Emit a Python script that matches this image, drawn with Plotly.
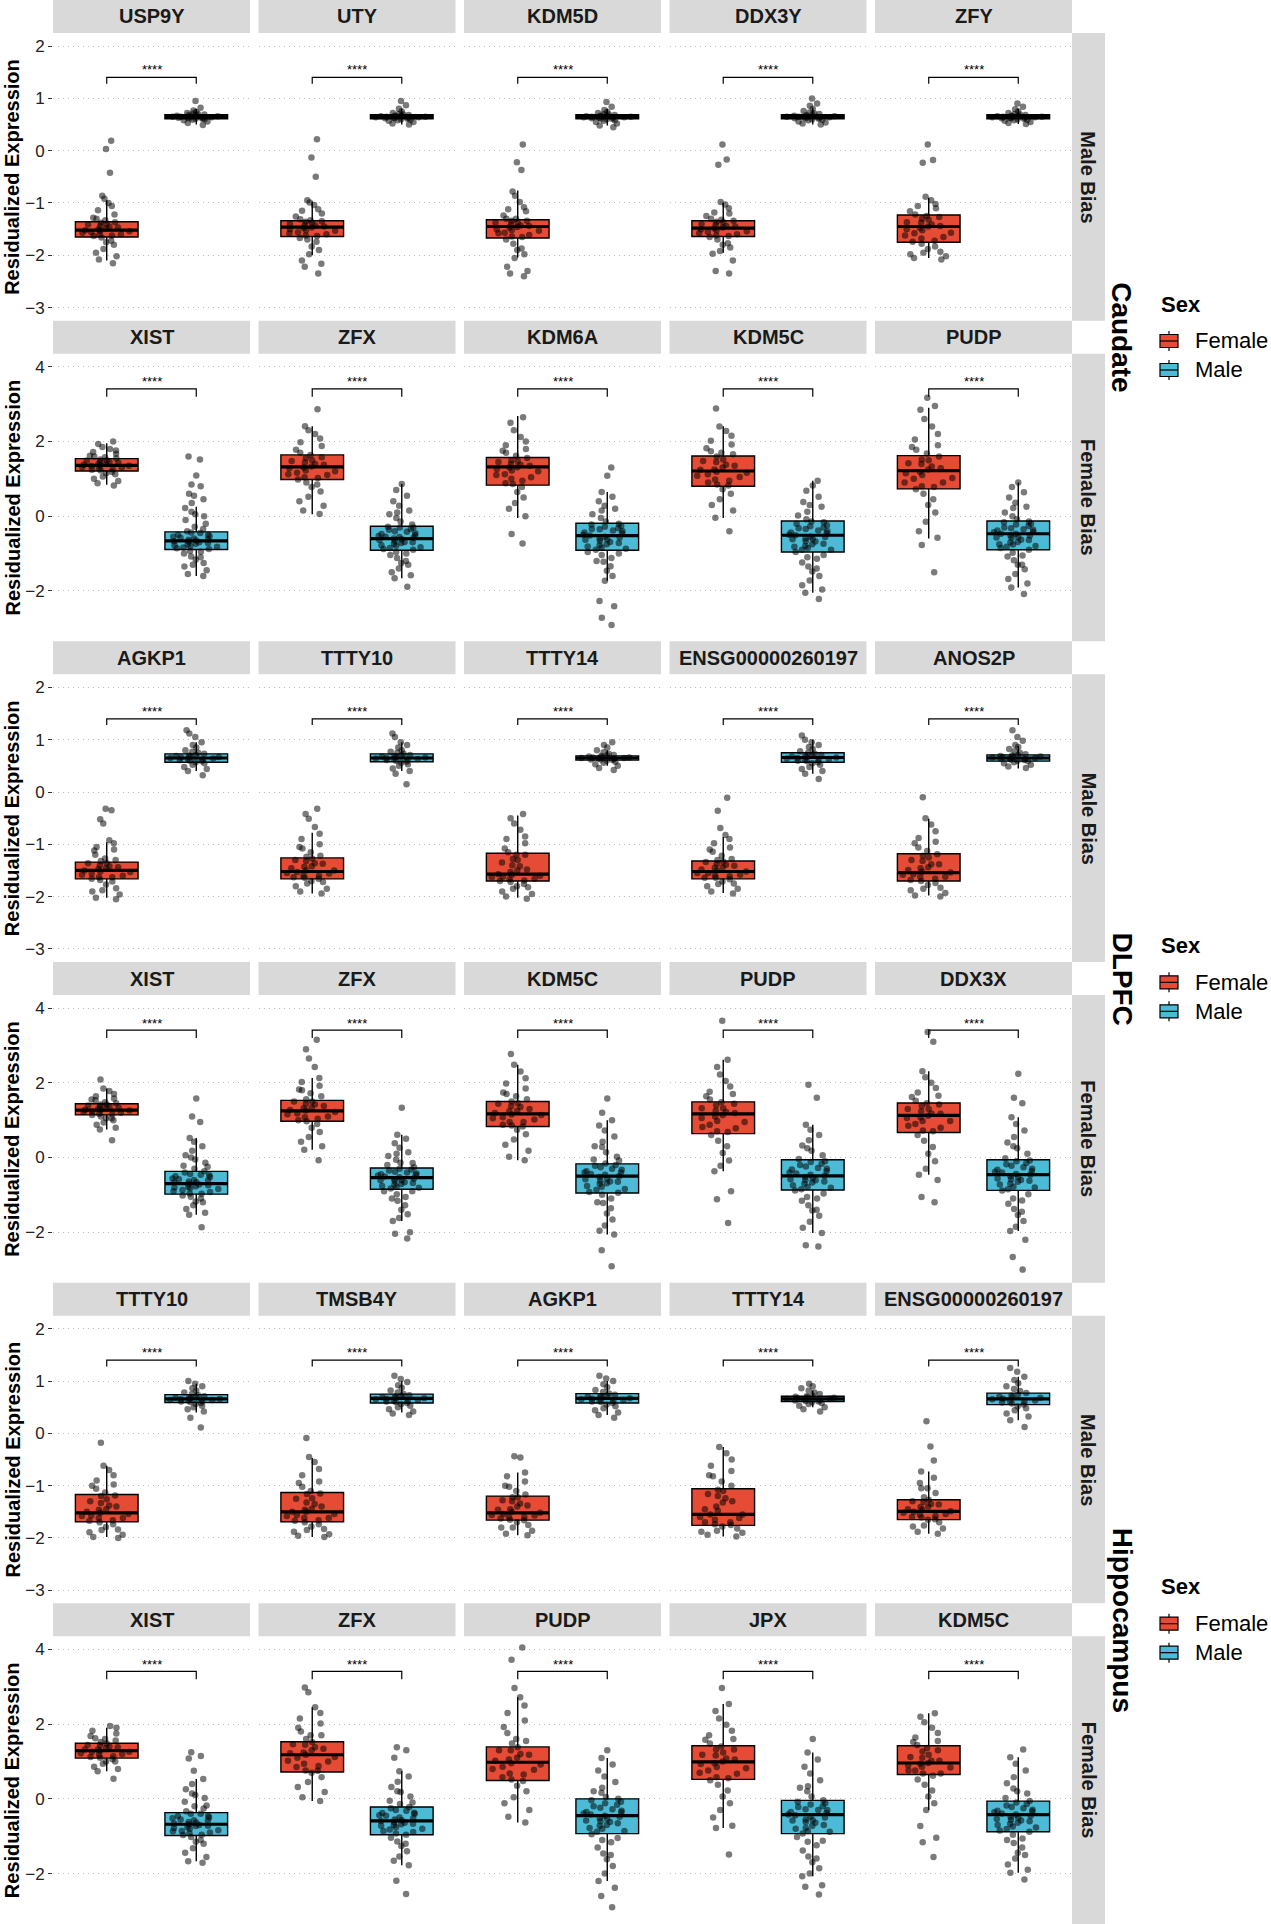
import plotly.graph_objects as go

W, H = 1271, 1924
FONT = "Liberation Sans, Arial, Helvetica, sans-serif"

regions = ["Caudate", "DLPFC", "Hippocampus"]
bias_rows = ["Male Bias", "Female Bias"]
sexes = ["Female", "Male"]
sex_fill = ["#E64B35", "#4DBBD5"]
signif_label = "****"
ytitle = "Residualized Expression"
legend_title = "Sex"

male_bias_ticks = [-3, -2, -1, 0, 1, 2]
female_bias_ticks = [-2, 0, 2, 4]
male_bias_range = [-3.25, 2.25]
female_bias_range = [-3.35, 4.35]
# bracket levels: [tip, bar, label]
male_bias_bracket = [1.28, 1.40, 1.62]
female_bias_bracket = [3.20, 3.41, 3.70]

# ---------------- genes ----------------
genes_caudate_male = ["USP9Y", "UTY", "KDM5D", "DDX3Y", "ZFY"]
genes_caudate_female = ["XIST", "ZFX", "KDM6A", "KDM5C", "PUDP"]
genes_dlpfc_male = ["AGKP1", "TTTY10", "TTTY14", "ENSG00000260197", "ANOS2P"]
genes_dlpfc_female = ["XIST", "ZFX", "KDM5C", "PUDP", "DDX3X"]
genes_hippo_male = ["TTTY10", "TMSB4Y", "AGKP1", "TTTY14", "ENSG00000260197"]
genes_hippo_female = ["XIST", "ZFX", "PUDP", "JPX", "KDM5C"]

# ---------------- box statistics [lower whisker, q1, median, q3, upper whisker] ----------------
box_caudate_male_F = [[-2.10, -1.65, -1.52, -1.36, -0.95], [-2.00, -1.64, -1.46, -1.34, -0.97],
                      [-2.04, -1.67, -1.45, -1.32, -0.76], [-1.95, -1.64, -1.48, -1.34, -1.00],
                      [-2.05, -1.75, -1.45, -1.23, -0.90]]
box_caudate_male_M = [[0.50, 0.61, 0.65, 0.69, 0.80], [0.50, 0.61, 0.65, 0.69, 0.80],
                      [0.48, 0.61, 0.65, 0.69, 0.80], [0.50, 0.61, 0.65, 0.69, 0.82],
                      [0.51, 0.61, 0.65, 0.69, 0.80]]
box_caudate_female_F = [[0.84, 1.21, 1.36, 1.54, 1.95], [0.05, 0.98, 1.32, 1.64, 2.41],
                        [-0.05, 0.83, 1.32, 1.57, 2.68], [-0.05, 0.80, 1.21, 1.61, 2.41],
                        [-0.60, 0.73, 1.22, 1.62, 2.90]]
box_caudate_female_M = [[-1.60, -0.89, -0.66, -0.42, 0.25], [-1.66, -0.91, -0.60, -0.27, 0.86],
                        [-1.73, -0.91, -0.52, -0.19, 0.65], [-2.05, -0.96, -0.51, -0.13, 0.95],
                        [-1.91, -0.90, -0.47, -0.13, 0.90]]
box_dlpfc_male_F = [[-2.02, -1.66, -1.50, -1.34, -0.96], [-1.94, -1.66, -1.52, -1.26, -0.78],
                    [-2.02, -1.70, -1.57, -1.17, -0.45], [-1.93, -1.66, -1.52, -1.32, -0.86],
                    [-1.98, -1.70, -1.54, -1.18, -0.51]]
box_dlpfc_male_M = [[0.40, 0.57, 0.65, 0.73, 0.95], [0.40, 0.58, 0.65, 0.73, 0.95],
                    [0.50, 0.61, 0.65, 0.69, 0.80], [0.35, 0.57, 0.66, 0.75, 1.00],
                    [0.45, 0.59, 0.65, 0.71, 0.88]]
box_dlpfc_female_F = [[0.75, 1.14, 1.27, 1.44, 1.85], [0.21, 0.97, 1.25, 1.53, 2.13],
                      [-0.07, 0.83, 1.17, 1.50, 2.48], [-0.37, 0.64, 1.17, 1.49, 2.62],
                      [-0.46, 0.67, 1.13, 1.46, 2.31]]
box_dlpfc_female_M = [[-1.53, -0.98, -0.70, -0.37, 0.52], [-1.70, -0.85, -0.54, -0.28, 0.61],
                      [-2.06, -0.95, -0.50, -0.17, 1.00], [-2.02, -0.87, -0.49, -0.06, 0.88],
                      [-1.97, -0.88, -0.46, -0.06, 1.08]]
box_hippo_male_F = [[-1.98, -1.69, -1.52, -1.17, -0.62], [-1.98, -1.69, -1.50, -1.13, -0.47],
                    [-1.95, -1.66, -1.52, -1.20, -0.75], [-1.97, -1.76, -1.55, -1.06, -0.26],
                    [-1.92, -1.65, -1.49, -1.27, -0.73]]
box_hippo_male_M = [[0.40, 0.59, 0.66, 0.74, 0.95], [0.40, 0.58, 0.67, 0.75, 1.00],
                    [0.35, 0.58, 0.67, 0.76, 1.00], [0.50, 0.61, 0.66, 0.71, 0.82],
                    [0.25, 0.55, 0.66, 0.77, 1.08]]
box_hippo_female_F = [[0.74, 1.09, 1.29, 1.49, 1.90], [-0.06, 0.72, 1.18, 1.53, 2.45],
                      [-0.63, 0.49, 0.98, 1.39, 2.72], [-0.78, 0.52, 0.99, 1.42, 2.54],
                      [-0.30, 0.65, 0.96, 1.42, 2.29]]
box_hippo_female_M = [[-1.67, -0.98, -0.68, -0.37, 0.53], [-1.78, -0.96, -0.59, -0.22, 0.74],
                      [-2.20, -0.93, -0.45, 0.00, 1.09], [-2.07, -0.93, -0.42, -0.04, 1.24],
                      [-1.98, -0.88, -0.42, -0.06, 1.11]]

# ---------------- sample points ----------------
pts_caudate_male_F = [
    [0.19, 0.03, -0.42, -0.86, -0.92, -1.0, -1.06, -1.14, -1.22, -1.28, -1.33, -1.37, -1.41, -1.44, -1.47, -1.5, -1.52, -1.54, -1.57, -1.6, -1.63, -1.66, -1.72, -1.8, -1.88, -1.95, -2.02, -2.08, -2.15,
     -1.4, -1.45, -1.49, -1.53, -1.56, -1.6, -1.38, -1.62, -1.3, -1.75],
    [0.22, -0.13, -0.5, -0.95, -0.99, -1.04, -1.12, -1.2, -1.26, -1.31, -1.35, -1.38, -1.42, -1.45, -1.48, -1.5, -1.53, -1.56, -1.6, -1.63, -1.67, -1.74, -1.83, -1.9, -1.98, -2.1, -2.16, -2.22, -2.35,
     -1.36, -1.4, -1.43, -1.47, -1.52, -1.58, -1.62, -1.33, -1.7, -1.15],
    [0.12, -0.22, -0.37, -0.78, -0.86, -0.98, -1.08, -1.16, -1.24, -1.3, -1.34, -1.38, -1.41, -1.44, -1.47, -1.5, -1.53, -1.57, -1.61, -1.65, -1.7, -1.78, -1.87, -1.98, -2.05, -2.22, -2.3, -2.35, -2.4,
     -1.34, -1.38, -1.43, -1.46, -1.52, -1.58, -1.64, -1.3, -1.9, -1.12],
    [0.12, -0.17, -0.27, -0.98, -1.03, -1.1, -1.18, -1.25, -1.3, -1.34, -1.37, -1.41, -1.44, -1.47, -1.49, -1.52, -1.55, -1.58, -1.62, -1.65, -1.7, -1.77, -1.85, -1.92, -1.97, -2.1, -2.3, -2.35,
     -1.36, -1.4, -1.45, -1.5, -1.54, -1.6, -1.63, -1.32, -1.8, -1.2],
    [0.12, -0.18, -0.23, -0.88, -0.95, -1.02, -1.1, -1.16, -1.22, -1.27, -1.32, -1.37, -1.41, -1.45, -1.48, -1.52, -1.57, -1.62, -1.68, -1.74, -1.78, -1.83, -1.88, -1.93, -1.98, -2.02, -2.05, -2.08,
     -1.25, -1.3, -1.38, -1.44, -1.5, -1.58, -1.65, -1.72, -1.95, -1.06],
]
pts_caudate_male_M = [
    [0.95, 0.82, 0.77, 0.74, 0.72, 0.71, 0.7, 0.69, 0.68, 0.68, 0.67, 0.66, 0.66, 0.65, 0.65, 0.64, 0.64, 0.63, 0.63, 0.62, 0.61, 0.61, 0.6, 0.59, 0.58, 0.56, 0.53, 0.49],
    [0.95, 0.87, 0.8, 0.75, 0.72, 0.7, 0.69, 0.68, 0.67, 0.67, 0.66, 0.66, 0.65, 0.65, 0.64, 0.64, 0.63, 0.63, 0.62, 0.62, 0.61, 0.6, 0.59, 0.58, 0.57, 0.55, 0.52, 0.5],
    [0.93, 0.84, 0.78, 0.74, 0.72, 0.7, 0.69, 0.68, 0.67, 0.67, 0.66, 0.66, 0.65, 0.65, 0.64, 0.64, 0.63, 0.63, 0.62, 0.61, 0.61, 0.6, 0.58, 0.57, 0.55, 0.52, 0.48, 0.45],
    [1.0, 0.9, 0.86, 0.8, 0.76, 0.73, 0.71, 0.7, 0.69, 0.68, 0.67, 0.66, 0.66, 0.65, 0.65, 0.64, 0.64, 0.63, 0.62, 0.62, 0.61, 0.6, 0.59, 0.58, 0.56, 0.54, 0.52, 0.5],
    [0.9, 0.84, 0.79, 0.75, 0.72, 0.7, 0.69, 0.68, 0.67, 0.67, 0.66, 0.66, 0.65, 0.65, 0.64, 0.64, 0.63, 0.63, 0.62, 0.62, 0.61, 0.6, 0.59, 0.58, 0.57, 0.55, 0.53, 0.51],
]
pts_caudate_female_F = [
    [2.0, 1.93, 1.85, 1.8, 1.76, 1.72, 1.67, 1.62, 1.58, 1.55, 1.52, 1.49, 1.46, 1.43, 1.4, 1.38, 1.36, 1.34, 1.31, 1.28, 1.25, 1.22, 1.18, 1.12, 1.06, 1.0, 0.94, 0.88, 0.82,
     1.24, 1.3, 1.35, 1.4, 1.45, 1.5, 1.6, 1.15],
    [2.86, 2.41, 2.3, 2.2, 2.08, 1.98, 1.88, 1.78, 1.7, 1.64, 1.58, 1.5, 1.44, 1.38, 1.33, 1.28, 1.22, 1.16, 1.1, 1.04, 0.98, 0.9, 0.78, 0.66, 0.52, 0.4, 0.28, 0.15, 0.06,
     1.02, 1.12, 1.2, 1.3, 1.4, 1.48, 1.56, 0.85],
    [2.65, 2.5, 2.3, 2.12, 2.0, 1.9, 1.8, 1.7, 1.62, 1.56, 1.5, 1.45, 1.4, 1.35, 1.31, 1.26, 1.2, 1.12, 1.04, 0.95, 0.86, 0.78, 0.65, 0.5, 0.35, 0.2, 0.0, -0.48, -0.73,
     0.88, 1.0, 1.1, 1.22, 1.3, 1.38, 1.48, 1.75],
    [2.88, 2.4, 2.28, 2.15, 2.02, 1.92, 1.82, 1.74, 1.66, 1.6, 1.52, 1.45, 1.38, 1.3, 1.24, 1.19, 1.12, 1.05, 0.98, 0.9, 0.82, 0.72, 0.6, 0.45, 0.3, 0.15, -0.04, -0.4,
     0.85, 0.95, 1.08, 1.16, 1.25, 1.35, 1.48, 1.7],
    [3.17, 2.95, 2.85, 2.6, 2.4, 2.2, 2.05, 1.9, 1.78, 1.68, 1.6, 1.5, 1.42, 1.33, 1.25, 1.18, 1.1, 1.0, 0.9, 0.8, 0.72, 0.6, 0.45, 0.3, 0.1, -0.15, -0.4, -0.58, -0.77, -1.5,
     0.78, 0.9, 1.02, 1.15, 1.28, 1.4, 1.52, 1.85],
]
pts_caudate_female_M = [
    [1.6, 1.52, 1.09, 0.85, 0.8, 0.6, 0.55, 0.45, 0.35, 0.22, 0.12, 0.0, -0.1, -0.2, -0.28, -0.34, -0.4, -0.45, -0.5, -0.54, -0.58, -0.62, -0.65, -0.68, -0.72, -0.76, -0.8, -0.84, -0.88, -0.93, -1.0, -1.08, -1.16, -1.25, -1.35, -1.45, -1.55, -1.6,
     -0.44, -0.5, -0.55, -0.6, -0.63, -0.67, -0.7, -0.74, -0.78, -0.82, -0.86, -0.95, -1.1, -1.3, 0.05],
    [0.86, 0.7, 0.55, 0.4, 0.28, 0.15, 0.05, -0.05, -0.14, -0.22, -0.28, -0.3, -0.34, -0.4, -0.46, -0.51, -0.55, -0.56, -0.6, -0.64, -0.69, -0.7, -0.74, -0.79, -0.85, -0.9, -0.96, -1.04, -1.12, -1.2, -1.3, -1.4, -1.5, -1.58, -1.66, -1.89,
     -0.3, -0.36, -0.42, -0.48, -0.53, -0.58, -0.62, -0.66, -0.72, -0.78, -0.83, -0.88, -1.0, -1.25, 0.1],
    [1.3, 1.08, 0.65, 0.52, 0.4, 0.28, 0.15, 0.05, -0.05, -0.14, -0.2, -0.26, -0.32, -0.35, -0.38, -0.44, -0.5, -0.55, -0.6, -0.62, -0.66, -0.72, -0.78, -0.84, -0.9, -0.96, -1.04, -1.12, -1.22, -1.34, -1.46, -1.6, -1.73, -2.27, -2.41, -2.72, -2.91,
     -0.22, -0.28, -0.34, -0.4, -0.46, -0.52, -0.57, -0.63, -0.69, -0.75, -0.81, -0.87, -1.0, -1.2, 0.2],
    [0.95, 0.82, 0.68, 0.52, 0.38, 0.25, 0.12, 0.02, -0.08, -0.14, -0.2, -0.27, -0.3, -0.34, -0.4, -0.46, -0.51, -0.56, -0.6, -0.62, -0.68, -0.75, -0.82, -0.85, -0.9, -0.96, -1.04, -1.14, -1.24, -1.35, -1.48, -1.6, -1.72, -1.85, -1.96, -2.05, -2.22,
     -0.16, -0.24, -0.32, -0.38, -0.44, -0.5, -0.55, -0.61, -0.67, -0.74, -0.8, -0.9, -1.1, -1.4, 0.3],
    [0.9, 0.78, 0.64, 0.5, 0.36, 0.22, 0.1, 0.0, -0.08, -0.14, -0.2, -0.26, -0.32, -0.35, -0.38, -0.43, -0.47, -0.52, -0.55, -0.58, -0.64, -0.7, -0.76, -0.8, -0.82, -0.9, -0.98, -1.08, -1.18, -1.3, -1.42, -1.55, -1.68, -1.8, -1.91, -2.08,
     -0.16, -0.22, -0.3, -0.36, -0.42, -0.47, -0.52, -0.57, -0.63, -0.69, -0.75, -0.85, -1.05, -1.3, 0.25],
]
pts_dlpfc_male_F = [
    [-0.32, -0.35, -0.52, -0.6, -0.92, -0.98, -1.05, -1.12, -1.2, -1.27, -1.32, -1.36, -1.4, -1.44, -1.47, -1.5, -1.53, -1.56, -1.6, -1.63, -1.66, -1.71, -1.77, -1.84, -1.9, -1.96, -2.02, -2.05,
     -1.36, -1.42, -1.46, -1.52, -1.58, -1.63, -1.3, -1.68, -1.88, -1.1],
    [-0.32, -0.42, -0.51, -0.67, -0.8, -0.9, -1.0, -1.08, -1.15, -1.22, -1.27, -1.32, -1.37, -1.42, -1.46, -1.5, -1.53, -1.56, -1.6, -1.63, -1.66, -1.7, -1.75, -1.8, -1.85, -1.9, -1.94,
     -1.3, -1.36, -1.43, -1.5, -1.55, -1.6, -1.64, -1.24, -1.72, -1.05],
    [-0.42, -0.5, -0.6, -0.72, -0.85, -0.98, -1.08, -1.15, -1.2, -1.28, -1.35, -1.42, -1.48, -1.53, -1.57, -1.6, -1.63, -1.66, -1.69, -1.72, -1.76, -1.8, -1.85, -1.9, -1.95, -2.0, -2.04,
     -1.2, -1.3, -1.4, -1.5, -1.58, -1.62, -1.67, -1.7, -1.82, -0.9],
    [-0.11, -0.36, -0.69, -0.82, -0.9, -0.98, -1.06, -1.14, -1.22, -1.28, -1.33, -1.37, -1.41, -1.45, -1.48, -1.52, -1.55, -1.58, -1.61, -1.64, -1.67, -1.71, -1.76, -1.8, -1.85, -1.9, -1.94,
     -1.34, -1.39, -1.44, -1.5, -1.55, -1.6, -1.64, -1.3, -1.75, -1.1],
    [-0.1, -0.5, -0.62, -0.75, -0.88, -0.98, -1.06, -1.13, -1.19, -1.25, -1.32, -1.38, -1.44, -1.49, -1.54, -1.58, -1.62, -1.66, -1.7, -1.74, -1.78, -1.83, -1.88, -1.93, -1.98, -2.0,
     -1.22, -1.3, -1.38, -1.46, -1.52, -1.57, -1.62, -1.68, -1.85, -0.95],
]
pts_dlpfc_male_M = [
    [1.18, 1.12, 1.05, 0.95, 0.9, 0.85, 0.8, 0.77, 0.75, 0.73, 0.71, 0.7, 0.69, 0.68, 0.67, 0.66, 0.65, 0.64, 0.63, 0.62, 0.61, 0.6, 0.59, 0.57, 0.55, 0.52, 0.48, 0.44, 0.4, 0.32],
    [1.12, 1.05, 0.95, 0.9, 0.85, 0.8, 0.77, 0.75, 0.73, 0.71, 0.7, 0.69, 0.68, 0.67, 0.66, 0.65, 0.64, 0.63, 0.63, 0.62, 0.61, 0.6, 0.58, 0.56, 0.53, 0.5, 0.45, 0.4, 0.35, 0.15],
    [0.95, 0.9, 0.85, 0.8, 0.76, 0.73, 0.71, 0.7, 0.69, 0.68, 0.67, 0.66, 0.66, 0.65, 0.65, 0.64, 0.63, 0.62, 0.62, 0.61, 0.6, 0.58, 0.56, 0.53, 0.5, 0.46, 0.42],
    [1.08, 1.0, 0.95, 0.9, 0.86, 0.82, 0.78, 0.75, 0.73, 0.71, 0.7, 0.69, 0.68, 0.67, 0.66, 0.65, 0.64, 0.63, 0.62, 0.61, 0.6, 0.59, 0.57, 0.55, 0.52, 0.48, 0.44, 0.4, 0.35, 0.25],
    [1.18, 1.05, 0.98, 0.9, 0.86, 0.82, 0.78, 0.75, 0.72, 0.71, 0.7, 0.69, 0.68, 0.68, 0.67, 0.66, 0.65, 0.64, 0.63, 0.63, 0.62, 0.61, 0.6, 0.59, 0.57, 0.55, 0.52, 0.49, 0.46],
]
pts_dlpfc_female_F = [
    [2.09, 1.85, 1.78, 1.7, 1.64, 1.58, 1.53, 1.48, 1.45, 1.42, 1.39, 1.36, 1.33, 1.3, 1.28, 1.26, 1.23, 1.2, 1.17, 1.14, 1.1, 1.05, 1.0, 0.94, 0.88, 0.8, 0.75, 0.46,
     1.16, 1.22, 1.27, 1.32, 1.38, 1.42, 1.55, 1.05],
    [3.15, 2.9, 2.65, 2.42, 2.13, 2.02, 1.92, 1.82, 1.72, 1.64, 1.56, 1.5, 1.44, 1.38, 1.32, 1.27, 1.22, 1.16, 1.1, 1.04, 0.97, 0.9, 0.8, 0.68, 0.55, 0.42, 0.3, 0.21, -0.07,
     1.0, 1.08, 1.18, 1.26, 1.34, 1.42, 1.5, 1.8],
    [2.77, 2.48, 2.3, 2.12, 1.98, 1.85, 1.74, 1.64, 1.56, 1.5, 1.44, 1.37, 1.3, 1.24, 1.19, 1.14, 1.08, 1.02, 0.95, 0.88, 0.83, 0.74, 0.62, 0.48, 0.34, 0.18, 0.02, -0.07,
     0.86, 0.95, 1.05, 1.15, 1.25, 1.35, 1.45, 1.7],
    [3.66, 2.62, 2.42, 2.22, 2.05, 1.9, 1.76, 1.64, 1.55, 1.48, 1.4, 1.32, 1.25, 1.19, 1.14, 1.06, 0.98, 0.88, 0.78, 0.68, 0.6, 0.45, 0.3, 0.12, -0.08, -0.22, -0.37, -0.9, -1.12, -1.75,
     0.7, 0.82, 0.95, 1.1, 1.22, 1.32, 1.44, 1.7],
    [3.36, 3.1, 2.31, 2.15, 2.0, 1.86, 1.74, 1.62, 1.52, 1.45, 1.38, 1.3, 1.23, 1.17, 1.12, 1.06, 0.98, 0.9, 0.8, 0.7, 0.6, 0.45, 0.28, 0.1, -0.1, -0.3, -0.46, -0.6, -1.06, -1.2,
     0.72, 0.85, 0.98, 1.08, 1.18, 1.3, 1.42, 1.65],
]
pts_dlpfc_female_M = [
    [1.58, 1.1, 0.95, 0.52, 0.42, 0.3, 0.18, 0.06, -0.05, -0.14, -0.22, -0.3, -0.37, -0.44, -0.47, -0.5, -0.56, -0.58, -0.61, -0.64, -0.66, -0.7, -0.74, -0.79, -0.8, -0.84, -0.9, -0.96, -1.02, -1.1, -1.18, -1.28, -1.38, -1.48, -1.53, -1.87,
     -0.4, -0.46, -0.52, -0.6, -0.66, -0.72, -0.77, -0.82, -0.87, -0.92, -0.97, -1.05, -1.2, 0.0, -0.25],
    [1.33, 0.61, 0.5, 0.38, 0.26, 0.14, 0.04, -0.06, -0.14, -0.2, -0.26, -0.32, -0.38, -0.43, -0.45, -0.48, -0.53, -0.58, -0.6, -0.63, -0.68, -0.73, -0.78, -0.83, -0.9, -0.98, -1.06, -1.16, -1.28, -1.4, -1.52, -1.62, -1.7, -2.0, -2.04, -2.17,
     -0.3, -0.35, -0.4, -0.46, -0.51, -0.56, -0.61, -0.66, -0.71, -0.76, -0.81, -0.9, -1.1, 0.1, -0.15],
    [1.58, 1.2, 1.0, 0.86, 0.72, 0.56, 0.42, 0.28, 0.14, 0.02, -0.08, -0.16, -0.22, -0.3, -0.37, -0.4, -0.44, -0.5, -0.56, -0.62, -0.65, -0.69, -0.76, -0.84, -0.92, -1.0, -1.1, -1.22, -1.36, -1.5, -1.66, -1.82, -1.96, -2.06, -2.48, -2.91,
     -0.2, -0.26, -0.33, -0.4, -0.46, -0.52, -0.58, -0.64, -0.7, -0.78, -0.86, -0.94, -1.2, 0.3, -0.05],
    [1.95, 1.6, 0.88, 0.74, 0.6, 0.46, 0.32, 0.18, 0.06, -0.04, -0.12, -0.2, -0.28, -0.3, -0.36, -0.43, -0.49, -0.55, -0.6, -0.61, -0.67, -0.74, -0.81, -0.88, -0.96, -1.06, -1.16, -1.28, -1.42, -1.56, -1.72, -1.88, -2.02, -2.35, -2.38,
     -0.1, -0.17, -0.24, -0.32, -0.4, -0.46, -0.52, -0.58, -0.64, -0.7, -0.78, -0.85, -1.1, 0.25, -1.4],
    [2.24, 1.6, 1.45, 1.08, 0.9, 0.72, 0.55, 0.4, 0.25, 0.1, -0.02, -0.1, -0.18, -0.26, -0.33, -0.36, -0.4, -0.46, -0.52, -0.58, -0.6, -0.65, -0.72, -0.8, -0.88, -0.98, -1.1, -1.24, -1.38, -1.54, -1.7, -1.85, -1.97, -2.2, -2.66, -3.0,
     -0.08, -0.15, -0.22, -0.3, -0.38, -0.44, -0.5, -0.56, -0.62, -0.7, -0.78, -0.85, -1.15, 0.3, -1.45],
]
pts_hippo_male_F = [
    [-0.18, -0.62, -0.7, -0.8, -0.9, -0.98, -1.06, -1.13, -1.19, -1.26, -1.33, -1.4, -1.46, -1.5, -1.54, -1.58, -1.62, -1.66, -1.7, -1.74, -1.79, -1.84, -1.89, -1.94, -1.98, -2.0,
     -1.2, -1.3, -1.38, -1.45, -1.52, -1.57, -1.62, -1.67, -1.85, -1.0],
    [-0.09, -0.45, -0.55, -0.68, -0.8, -0.92, -1.02, -1.1, -1.16, -1.24, -1.32, -1.4, -1.46, -1.5, -1.54, -1.58, -1.62, -1.66, -1.7, -1.74, -1.78, -1.83, -1.88, -1.93, -1.96, -1.98,
     -1.15, -1.25, -1.35, -1.44, -1.5, -1.56, -1.62, -1.67, -1.85, -0.95],
    [-0.44, -0.46, -0.75, -0.82, -0.92, -1.02, -1.1, -1.17, -1.22, -1.28, -1.34, -1.4, -1.46, -1.5, -1.54, -1.57, -1.6, -1.63, -1.66, -1.7, -1.75, -1.8, -1.86, -1.92, -1.95,
     -1.22, -1.3, -1.38, -1.45, -1.52, -1.56, -1.6, -1.65, -1.8, -1.0],
    [-0.26, -0.38, -0.5, -0.62, -0.72, -0.82, -0.92, -1.0, -1.08, -1.16, -1.24, -1.32, -1.4, -1.48, -1.55, -1.6, -1.65, -1.7, -1.75, -1.78, -1.82, -1.86, -1.9, -1.94, -1.97,
     -1.1, -1.2, -1.3, -1.45, -1.55, -1.62, -1.7, -1.74, -1.88, -0.8],
    [0.23, -0.25, -0.52, -0.73, -0.85, -0.95, -1.05, -1.14, -1.22, -1.27, -1.31, -1.36, -1.41, -1.45, -1.49, -1.52, -1.55, -1.58, -1.61, -1.65, -1.7, -1.76, -1.82, -1.88, -1.92,
     -1.3, -1.35, -1.4, -1.46, -1.5, -1.54, -1.6, -1.64, -1.78, -1.05],
]
pts_hippo_male_M = [
    [1.0, 0.95, 0.9, 0.86, 0.82, 0.78, 0.75, 0.73, 0.71, 0.7, 0.69, 0.68, 0.67, 0.66, 0.65, 0.64, 0.64, 0.63, 0.62, 0.61, 0.6, 0.58, 0.56, 0.53, 0.5, 0.46, 0.42, 0.3, 0.11],
    [1.1, 1.04, 0.98, 0.92, 0.87, 0.82, 0.78, 0.75, 0.73, 0.71, 0.7, 0.69, 0.68, 0.67, 0.66, 0.65, 0.64, 0.63, 0.62, 0.61, 0.6, 0.58, 0.56, 0.53, 0.5, 0.46, 0.42, 0.38, 0.35],
    [1.1, 1.05, 1.0, 0.94, 0.88, 0.83, 0.79, 0.76, 0.74, 0.72, 0.71, 0.7, 0.69, 0.67, 0.66, 0.65, 0.64, 0.63, 0.62, 0.61, 0.6, 0.58, 0.55, 0.52, 0.48, 0.44, 0.4, 0.35, 0.3],
    [0.95, 0.9, 0.86, 0.82, 0.78, 0.75, 0.72, 0.71, 0.7, 0.69, 0.68, 0.67, 0.66, 0.66, 0.65, 0.64, 0.63, 0.62, 0.61, 0.6, 0.58, 0.56, 0.53, 0.5, 0.46, 0.42],
    [1.25, 1.18, 1.08, 1.02, 0.96, 0.9, 0.85, 0.81, 0.77, 0.74, 0.72, 0.7, 0.69, 0.68, 0.66, 0.65, 0.63, 0.61, 0.6, 0.59, 0.57, 0.55, 0.52, 0.48, 0.44, 0.38, 0.32, 0.25, 0.12],
]
pts_hippo_female_F = [
    [1.95, 1.9, 1.82, 1.75, 1.68, 1.62, 1.56, 1.52, 1.48, 1.44, 1.4, 1.36, 1.32, 1.29, 1.26, 1.22, 1.18, 1.14, 1.1, 1.06, 1.0, 0.94, 0.86, 0.8, 0.74, 0.54,
     1.12, 1.2, 1.26, 1.32, 1.38, 1.44, 1.6, 1.0],
    [2.98, 2.85, 2.45, 2.3, 2.15, 2.02, 1.9, 1.8, 1.7, 1.6, 1.52, 1.45, 1.38, 1.3, 1.24, 1.18, 1.1, 1.02, 0.94, 0.85, 0.76, 0.7, 0.58, 0.45, 0.32, 0.18, 0.04, -0.06,
     0.75, 0.88, 1.0, 1.12, 1.22, 1.34, 1.46, 1.7],
    [4.05, 3.72, 2.97, 2.72, 2.5, 2.3, 2.1, 1.92, 1.76, 1.6, 1.48, 1.38, 1.3, 1.2, 1.1, 1.02, 0.95, 0.86, 0.78, 0.68, 0.58, 0.48, 0.35, 0.2, 0.04, -0.12, -0.3, -0.48, -0.63,
     0.52, 0.65, 0.8, 0.92, 1.05, 1.18, 1.3, 1.55],
    [2.97, 2.54, 2.35, 2.15, 1.98, 1.82, 1.7, 1.58, 1.48, 1.4, 1.32, 1.24, 1.16, 1.08, 1.0, 0.93, 0.85, 0.76, 0.67, 0.58, 0.5, 0.38, 0.22, 0.06, -0.12, -0.3, -0.5, -0.72, -0.78, -1.49,
     0.55, 0.7, 0.82, 0.95, 1.05, 1.18, 1.32, 1.6],
    [2.29, 2.2, 2.05, 1.9, 1.76, 1.64, 1.52, 1.44, 1.36, 1.27, 1.18, 1.1, 1.02, 0.96, 0.9, 0.84, 0.76, 0.68, 0.62, 0.52, 0.38, 0.22, 0.06, -0.12, -0.3, -0.73, -1.04, -1.16, -1.56,
     0.68, 0.76, 0.86, 0.94, 1.02, 1.12, 1.3, 1.55],
]
pts_hippo_female_M = [
    [1.25, 1.15, 1.08, 0.75, 0.53, 0.4, 0.26, 0.14, 0.02, -0.08, -0.18, -0.26, -0.33, -0.4, -0.46, -0.52, -0.55, -0.58, -0.63, -0.68, -0.7, -0.73, -0.78, -0.84, -0.87, -0.9, -0.96, -1.02, -1.1, -1.2, -1.32, -1.44, -1.56, -1.67, -1.71,
     -0.4, -0.45, -0.5, -0.57, -0.62, -0.66, -0.72, -0.76, -0.8, -0.86, -0.92, -0.97, -1.15, -0.2, 0.1],
    [1.38, 1.3, 1.1, 0.74, 0.6, 0.46, 0.32, 0.18, 0.06, -0.05, -0.14, -0.22, -0.3, -0.37, -0.4, -0.44, -0.5, -0.55, -0.59, -0.64, -0.68, -0.7, -0.76, -0.82, -0.89, -0.96, -1.04, -1.14, -1.26, -1.4, -1.54, -1.66, -1.78, -2.19, -2.55,
     -0.25, -0.32, -0.38, -0.45, -0.52, -0.57, -0.62, -0.67, -0.72, -0.8, -0.86, -0.93, -1.2, -0.1, 0.2],
    [1.3, 1.09, 0.92, 0.76, 0.6, 0.45, 0.3, 0.16, 0.05, 0.0, -0.08, -0.16, -0.24, -0.32, -0.35, -0.39, -0.45, -0.51, -0.58, -0.6, -0.65, -0.72, -0.8, -0.88, -0.95, -1.05, -1.16, -1.3, -1.46, -1.62, -1.8, -2.0, -2.2, -2.38, -2.6, -2.9,
     -0.04, -0.12, -0.2, -0.28, -0.36, -0.42, -0.48, -0.54, -0.62, -0.7, -0.78, -0.86, -1.1, 0.2, -1.5],
    [1.6, 1.24, 1.05, 0.86, 0.68, 0.5, 0.34, 0.2, 0.06, -0.04, -0.12, -0.2, -0.28, -0.3, -0.35, -0.42, -0.48, -0.55, -0.58, -0.62, -0.7, -0.78, -0.86, -0.93, -1.02, -1.12, -1.24, -1.38, -1.54, -1.7, -1.86, -2.0, -2.07, -2.31, -2.35, -2.56,
     -0.08, -0.15, -0.22, -0.3, -0.37, -0.44, -0.5, -0.57, -0.64, -0.72, -0.8, -0.88, -1.15, 0.3, -1.6],
    [1.32, 1.11, 0.94, 0.76, 0.58, 0.42, 0.28, 0.14, 0.02, -0.06, -0.14, -0.22, -0.29, -0.32, -0.36, -0.42, -0.48, -0.54, -0.56, -0.6, -0.67, -0.74, -0.81, -0.88, -0.96, -1.06, -1.18, -1.3, -1.44, -1.6, -1.76, -1.9, -1.98, -2.16,
     -0.1, -0.18, -0.25, -0.33, -0.39, -0.45, -0.5, -0.58, -0.64, -0.7, -0.77, -0.85, -1.1, 0.2, -1.5],
]

# ---------------- assemble rows ----------------
rows = [
    (genes_caudate_male, box_caudate_male_F, box_caudate_male_M, pts_caudate_male_F, pts_caudate_male_M, 0),
    (genes_caudate_female, box_caudate_female_F, box_caudate_female_M, pts_caudate_female_F, pts_caudate_female_M, 1),
    (genes_dlpfc_male, box_dlpfc_male_F, box_dlpfc_male_M, pts_dlpfc_male_F, pts_dlpfc_male_M, 0),
    (genes_dlpfc_female, box_dlpfc_female_F, box_dlpfc_female_M, pts_dlpfc_female_F, pts_dlpfc_female_M, 1),
    (genes_hippo_male, box_hippo_male_F, box_hippo_male_M, pts_hippo_male_F, pts_hippo_male_M, 0),
    (genes_hippo_female, box_hippo_female_F, box_hippo_female_M, pts_hippo_female_F, pts_hippo_female_M, 1),
]

# ---------------- geometry (pixels) ----------------
ROW_H = H / 6.0
STRIP_H = 33
COL_X0 = 53
COL_STEP = 205.5
COL_W = 197
RSTRIP_X0, RSTRIP_X1 = 1072, 1105
BOX_W = 0.7
STRIP_BG = "#D9D9D9"
TXT = "#1A1A1A"


def fx(px):
    return min(1.0, max(0.0, px / W))


def fy(py):
    return min(1.0, max(0.0, 1 - py / H))


fig = go.Figure()
layout = dict(
    width=W, height=H, margin=dict(l=0, r=0, t=0, b=0),
    paper_bgcolor="white", plot_bgcolor="white", showlegend=False,
    boxmode="overlay", font=dict(family=FONT, color=TXT),
)
shapes = []
annotations = []

box_traces, median_traces, point_traces, bracket_traces = [], [], [], []

for r, (genes, bf, bm, pf, pm, bias) in enumerate(rows):
    row_top = r * ROW_H
    p_top = row_top + STRIP_H
    p_bot = row_top + ROW_H
    yr = male_bias_range if bias == 0 else female_bias_range
    ticks = male_bias_ticks if bias == 0 else female_bias_ticks
    brk = male_bias_bracket if bias == 0 else female_bias_bracket
    for c in range(5):
        n = r * 5 + c + 1
        xa = "x" if n == 1 else f"x{n}"
        ya = "y" if n == 1 else f"y{n}"
        x0 = COL_X0 + c * COL_STEP
        x1 = x0 + COL_W
        layout["xaxis" if n == 1 else f"xaxis{n}"] = dict(
            domain=[fx(x0), fx(x1)], anchor=ya, type="category",
            categoryorder="array", categoryarray=sexes, range=[-0.6, 1.6],
            showticklabels=False, showgrid=False, zeroline=False, showline=False,
            ticks="", fixedrange=True)
        layout["yaxis" if n == 1 else f"yaxis{n}"] = dict(
            domain=[fy(p_bot), fy(p_top)], anchor=xa, range=yr,
            tickvals=ticks, ticktext=[str(t).replace("-", "\u2212") for t in ticks],
            showticklabels=(c == 0), ticks="outside" if c == 0 else "",
            ticklen=4, tickwidth=1, tickcolor="#333333",
            tickfont=dict(size=17, color="#222222", family=FONT),
            showgrid=True, gridcolor="#BDBDBD", gridwidth=1, griddash="1px,4px",
            zeroline=False, showline=False, fixedrange=True)

        for s, (stats, pts) in enumerate(((bf[c], pf[c]), (bm[c], pm[c]))):
            lo, q1, med, q3, hi = stats
            box_traces.append(go.Box(
                x=[sexes[s]], q1=[q1], median=[med], q3=[q3],
                lowerfence=[lo], upperfence=[hi], boxpoints=False,
                fillcolor=sex_fill[s], line=dict(color="black", width=1.4),
                whiskerwidth=0, width=BOX_W, xaxis=xa, yaxis=ya, hoverinfo="skip"))
            median_traces.append(go.Box(
                x=[sexes[s]], q1=[med], median=[med], q3=[med],
                lowerfence=[med], upperfence=[med], boxpoints=False,
                fillcolor="rgba(0,0,0,0)", line=dict(color="black", width=3.2),
                whiskerwidth=0, width=BOX_W, xaxis=xa, yaxis=ya, hoverinfo="skip"))
            point_traces.append(go.Box(
                x=[sexes[s]] * len(pts), y=pts, boxpoints="all", jitter=0.85,
                pointpos=0, width=BOX_W, fillcolor="rgba(0,0,0,0)",
                line=dict(color="rgba(0,0,0,0)", width=0),
                marker=dict(size=6.5, color="rgba(0,0,0,0.52)", line=dict(width=0)),
                xaxis=xa, yaxis=ya, hoverinfo="skip"))

        # significance bracket
        bracket_traces.append(go.Scatter(
            x=[sexes[0], sexes[0], sexes[1], sexes[1]],
            y=[brk[0], brk[1], brk[1], brk[0]], mode="lines",
            line=dict(color="black", width=1.2), xaxis=xa, yaxis=ya,
            hoverinfo="skip"))
        annotations.append(dict(
            x=fx((x0 + x1) / 2), xref="paper", y=brk[2], yref=ya,
            text=signif_label, showarrow=False, yshift=-4,
            font=dict(size=13, color="black", family=FONT),
            xanchor="center", yanchor="middle"))

        # top strip
        shapes.append(dict(type="rect", xref="paper", yref="paper",
                           x0=fx(x0), x1=fx(x1), y0=fy(row_top + STRIP_H), y1=fy(row_top),
                           fillcolor=STRIP_BG, line=dict(width=0), layer="below"))
        annotations.append(dict(
            x=fx((x0 + x1) / 2), y=fy(row_top + STRIP_H / 2), xref="paper", yref="paper",
            text=f"<b>{genes[c]}</b>", showarrow=False,
            font=dict(size=20, color=TXT, family=FONT), xanchor="center", yanchor="middle"))

    # right strip
    shapes.append(dict(type="rect", xref="paper", yref="paper",
                       x0=fx(RSTRIP_X0), x1=fx(RSTRIP_X1), y0=fy(p_bot), y1=fy(p_top),
                       fillcolor=STRIP_BG, line=dict(width=0), layer="below"))
    annotations.append(dict(
        x=fx((RSTRIP_X0 + RSTRIP_X1) / 2), y=fy((p_top + p_bot) / 2),
        xref="paper", yref="paper", text=f"<b>{bias_rows[bias]}</b>", textangle=90,
        showarrow=False, font=dict(size=20, color=TXT, family=FONT),
        xanchor="center", yanchor="middle"))
    # y-axis title
    annotations.append(dict(
        x=fx(12), y=fy((p_top + p_bot) / 2), xref="paper", yref="paper",
        text=f"<b>{ytitle}</b>", textangle=-90, showarrow=False,
        font=dict(size=20, color="black", family=FONT),
        xanchor="center", yanchor="middle"))

# region labels and legends
for g, reg in enumerate(regions):
    reg_top = g * 2 * ROW_H
    mid = reg_top + STRIP_H + (2 * ROW_H - STRIP_H) / 2
    annotations.append(dict(
        x=fx(1122), y=fy(mid), xref="paper", yref="paper", text=f"<b>{reg}</b>",
        textangle=90, showarrow=False, font=dict(size=28, color="black", family=FONT),
        xanchor="center", yanchor="middle"))
    annotations.append(dict(
        x=fx(1159), y=fy(reg_top + 304), xref="paper", yref="paper",
        text=f"<b>{legend_title}</b>", showarrow=False,
        font=dict(size=22, color="black", family=FONT), xanchor="left", yanchor="middle"))
    for s, sx in enumerate(sexes):
        cy = reg_top + 341 + s * 29
        shapes.append(dict(type="line", xref="paper", yref="paper",
                           x0=fx(1169), x1=fx(1169), y0=fy(cy + 10), y1=fy(cy - 10),
                           line=dict(color="black", width=1.2)))
        shapes.append(dict(type="rect", xref="paper", yref="paper",
                           x0=fx(1160), x1=fx(1178), y0=fy(cy + 6.5), y1=fy(cy - 6.5),
                           fillcolor=sex_fill[s], line=dict(color="black", width=1.2)))
        shapes.append(dict(type="line", xref="paper", yref="paper",
                           x0=fx(1160), x1=fx(1178), y0=fy(cy), y1=fy(cy),
                           line=dict(color="black", width=1.2)))
        annotations.append(dict(
            x=fx(1193), y=fy(cy), xref="paper", yref="paper", text=sx,
            showarrow=False, font=dict(size=22, color="black", family=FONT),
            xanchor="left", yanchor="middle"))

for t in box_traces + median_traces + point_traces + bracket_traces:
    fig.add_trace(t)

layout["shapes"] = shapes
layout["annotations"] = annotations
fig.update_layout(**layout)
fig.write_html("out.html")
